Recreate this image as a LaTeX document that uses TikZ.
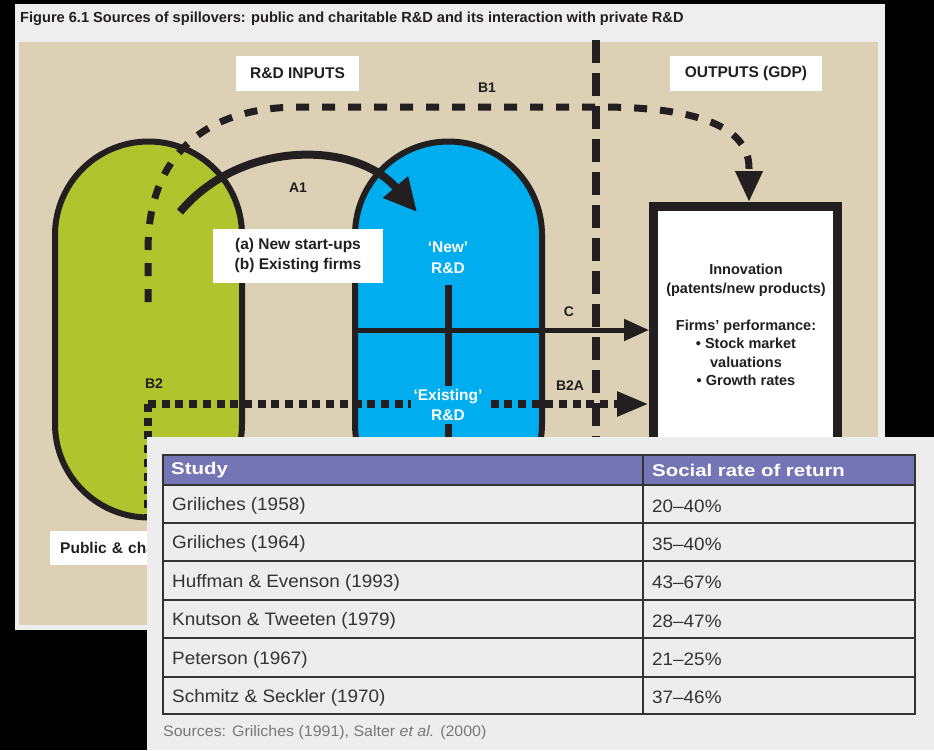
\documentclass[tikz,border=0pt]{standalone}
\usepackage{fontspec}
\setmainfont{Liberation Sans}
\newfontfamily\tabfont[FakeStretch=1.05]{Liberation Sans}
\newfontfamily\headfont[FakeStretch=1.2]{Liberation Sans}
\usetikzlibrary{arrows.meta}
\definecolor{beige}{RGB}{220,209,181}
\definecolor{panelgray}{RGB}{238,238,238}
\definecolor{tabgray}{RGB}{237,237,237}
\definecolor{ink}{RGB}{35,31,32}
\definecolor{pubgreen}{RGB}{176,196,46}
\definecolor{privblue}{RGB}{0,174,239}
\definecolor{headpurple}{RGB}{116,117,181}
\definecolor{tabtext}{RGB}{51,51,51}
\definecolor{srcgray}{RGB}{120,120,120}
\begin{document}
\begin{tikzpicture}[x=1pt,y=-1pt,
  capsule/.style={draw=ink,line width=6pt,rounded corners=93.5pt,minimum width=187pt,minimum height=376pt,inner sep=0pt},
  whitebox/.style={fill=white,inner sep=0pt,font=\bfseries\fontsize{15.5}{20}\selectfont,text=ink},
  flowlbl/.style={font=\bfseries\fontsize{14}{16}\selectfont,text=ink,inner sep=0pt},
  insidelbl/.style={font=\bfseries\fontsize{15.5}{20.5}\selectfont,text=white,align=center,inner sep=1pt},
  bigdash/.style={draw=ink,line width=7pt,dash pattern=on 13pt off 13pt},
  dotline/.style={draw=ink,line width=8pt,dash pattern=on 8pt off 5.7pt},
  divider/.style={draw=ink,line width=8pt,dash pattern=on 23pt off 10pt},
  tabrow/.style={font=\tabfont\fontsize{18}{20}\selectfont,text=tabtext,anchor=west,inner sep=0pt},
  tabhead/.style={font=\headfont\bfseries\fontsize{17}{18}\selectfont,text=white,anchor=west,inner sep=0pt},
  tabline/.style={draw=tabtext,line width=2pt}
]
\useasboundingbox (0,0) rectangle (934,750);
\fill[black] (0,0) rectangle (934,750);
% figure panel
\fill[panelgray] (15,4) rectangle (885,630);
\fill[beige] (19,42) rectangle (878,625);
\node[anchor=west,inner sep=0pt,text=ink,font=\bfseries\fontsize{14.6}{16}\selectfont] (title) at (20,19)
  {Figure 6.1 Sources of spillovers: public and charitable R\&D and its interaction with private R\&D};
% header boxes
\node[whitebox,minimum width=123pt,minimum height=35pt] (inputs) at (297.5,73.5) {R\&D INPUTS};
\node[whitebox,minimum width=152pt,minimum height=35pt] (outputs) at (746,73.5) {OUTPUTS (GDP)};
% capsules
\node[capsule,fill=pubgreen] (pub) at (148.5,329.5) {};
\node[capsule,fill=privblue] (priv) at (448.5,329.5) {};
% output box
\node[draw=ink,fill=white,line width=9pt,minimum width=184pt,minimum height=313pt,inner sep=0pt] (out) at (745.5,363) {};
\node[font=\bfseries\fontsize{14.5}{18.5}\selectfont,text=ink,align=center,inner sep=0pt] (outtext) at (746,325)
  {Innovation\\(patents/new products)\\[18.5pt]Firms’ performance:\\• Stock market\\valuations\\• Growth rates};
% vertical divider
\draw[divider] (596,40) -- (596,437);
% B1 dashed
\coordinate (b1s) at (148,302);
\draw[bigdash,-{Triangle[length=31pt,width=26pt]}] (b1s) -- (148,250) .. controls (148,160) and (200,107) .. (300,107) -- (600,107) .. controls (700,107) and (749,128) .. (749,168) -- ([xshift=3.5pt]out.north);
% A1 arrow
\coordinate (a1s) at (180,212);
\coordinate (a1e) at (417,212);
\draw[ink,line width=8pt,-{Triangle[length=33pt,width=31pt]}] (a1s) .. controls (240,140) and (355,140) .. (a1e);
% private R&D inner lines
\draw[ink,line width=7pt] (448,285) -- (448,517);
\coordinate (cs) at (352,330);
\draw[ink,line width=5pt,-{Triangle[length=25pt,width=21pt]}] (cs) -- (cs -| out.west);
% B2 dotted
\coordinate (b2) at (148,404);
\draw[dotline] (b2) -- (148,520);
\draw[dotline,-{Triangle[length=32pt,width=23pt]}] (b2) -- (b2 -| out.west);
% texts
\node[insidelbl] (newrd) at (448,257.5) {‘New’\\R\&D};
\node[insidelbl,fill=privblue,inner sep=3pt] (exrd) at (448,405) {‘Existing’\\R\&D};
\node[whitebox,minimum width=170pt,minimum height=54pt,align=center] (firms) at (298,256) {(a) New start-ups\\(b) Existing firms};
\node[flowlbl] (la1) at (298,188) {A1};
\node[flowlbl] (lb1) at (487,88) {B1};
\node[flowlbl] (lc) at (569,312) {C};
\node[flowlbl] (lb2) at (154,384) {B2};
\node[flowlbl] (lb2a) at (570,386) {B2A};
\begin{scope}
\clip (0,0) rectangle (147,750);
\node[whitebox,anchor=north west,minimum height=34pt,text width=200pt,inner xsep=10pt] (publbl) at (50,531) {Public \& cha};
\end{scope}
% table panel
\fill[tabgray] (147,437) rectangle (934,750);
\fill[headpurple] (163,455) rectangle (915,485);
\foreach \yy in {485,523,561,600,638,677} {\draw[tabline] (163,\yy) -- (915,\yy);}
\draw[tabline] (163,455) rectangle (915,714);
\draw[tabline] (643,455) -- (643,714);
\node[tabhead] (hstudy) at (171,470) {Study};
\node[tabhead] (hrate) at (652,470) {Social rate of return};
\node[tabrow] (r1a) at (172,506) {Griliches (1958)};
\node[tabrow] (r1b) at (652,506) {20–40\%};
\node[tabrow] (r2a) at (172,544) {Griliches (1964)};
\node[tabrow] (r2b) at (652,544) {35–40\%};
\node[tabrow] (r3a) at (172,582.5) {Huffman \& Evenson (1993)};
\node[tabrow] (r3b) at (652,582.5) {43–67\%};
\node[tabrow] (r4a) at (172,621) {Knutson \& Tweeten (1979)};
\node[tabrow] (r4b) at (652,621) {28–47\%};
\node[tabrow] (r5a) at (172,659.5) {Peterson (1967)};
\node[tabrow] (r5b) at (652,659.5) {21–25\%};
\node[tabrow] (r6a) at (172,697.5) {Schmitz \& Seckler (1970)};
\node[tabrow] (r6b) at (652,697.5) {37–46\%};
\node[tabrow,text=srcgray,font=\tabfont\fontsize{15.2}{16}\selectfont] (src) at (163,733) {Sources: Griliches (1991), Salter \textit{et al.} (2000)};
\end{tikzpicture}
\end{document}
